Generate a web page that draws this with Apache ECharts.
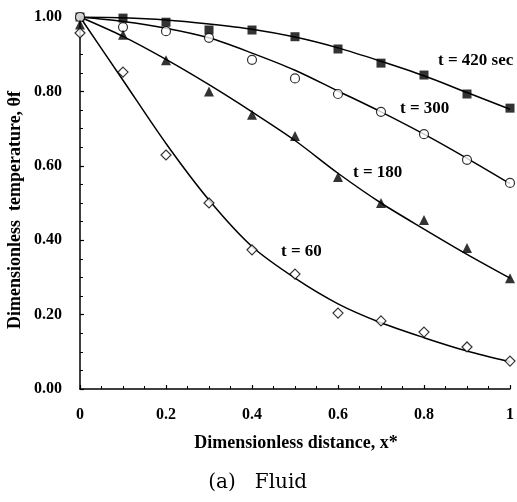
<!DOCTYPE html>
<html><head><meta charset="utf-8">
<script src="https://cdn.jsdelivr.net/npm/echarts@6/dist/echarts.min.js"></script>
<style>html,body{margin:0;padding:0;background:#fff}#c{width:517px;height:502px}</style>
</head><body><div id="c"></div>
<script>
const xs = [0,0.1,0.2,0.3,0.4,0.5,0.6,0.7,0.8,0.9,1.0];
const xTicks = ['0','0.2','0.4','0.6','0.8','1'];
const yTicks = ['0.00','0.20','0.40','0.60','0.80','1.00'];
// measured points
const pts420 = [1.00,0.997,0.986,0.965,0.965,0.947,0.914,0.876,0.844,0.793,0.755];
const pts300 = [1.00,0.973,0.962,0.944,0.885,0.835,0.793,0.745,0.685,0.616,0.554];
const pts180 = [0.98,0.952,0.884,0.800,0.737,0.680,0.570,0.500,0.454,0.379,0.298];
const pts60  = [0.957,0.852,0.629,0.500,0.374,0.309,0.204,0.183,0.153,0.113,0.075];
// fitted curves
const fit420 = [1.00,0.998,0.992,0.981,0.967,0.946,0.917,0.881,0.842,0.797,0.752];
const fit300 = [1.00,0.988,0.970,0.944,0.903,0.857,0.801,0.745,0.685,0.620,0.552];
const fit180 = [1.00,0.948,0.886,0.818,0.745,0.668,0.580,0.500,0.430,0.362,0.298];
const fit60  = [1.00,0.830,0.660,0.508,0.383,0.298,0.229,0.178,0.138,0.102,0.073];

const pair = a => xs.map((x,i)=>[x,a[i]]);
const serif = 'Liberation Serif';
const curve = d => ({type:'line', data: pair(d), smooth:0.3, showSymbol:false, symbol:'none',
  lineStyle:{color:'#000', width:1.5}, z:2, silent:true});
const pts = (d, sym, size, filled) => ({type:'scatter', data: pair(d), symbol: sym, symbolSize: size,
  itemStyle: filled ? {color:'#000'} : {color:'#fff', borderColor:'#000', borderWidth:1.2}, z:3, silent:true});

const chart = echarts.init(document.getElementById('c'));
chart.setOption({
  animation:false,
  grid:{left:80, right:7, top:17, bottom:113, containLabel:false},
  xAxis:{type:'value', min:0, max:1, interval:0.2,
    axisLine:{lineStyle:{color:'#000', width:1.5}},
    axisTick:{inside:true, length:4, lineStyle:{color:'#000', width:1.2}},
    minorTick:{show:true, splitNumber:4, length:3, lineStyle:{color:'#000', width:1}},
    splitLine:{show:false},
    axisLabel:{margin:18, color:'#000', fontFamily:serif, fontWeight:'bold', fontSize:16,
      formatter:(v)=>xTicks[Math.round(v/0.2)]}},
  yAxis:{type:'value', min:0, max:1, interval:0.2,
    axisLine:{show:true, lineStyle:{color:'#000', width:1.5}},
    axisTick:{show:true, inside:true, length:4, lineStyle:{color:'#000', width:1.2}},
    minorTick:{show:true, splitNumber:4, length:3, lineStyle:{color:'#000', width:1}},
    splitLine:{show:false},
    axisLabel:{margin:18, color:'#000', fontFamily:serif, fontWeight:'bold', fontSize:16,
      formatter:(v)=>yTicks[Math.round(v/0.2)]}},
  series:[
    curve(fit420), curve(fit300), curve(fit180), curve(fit60),
    pts(pts420,'rect',9,true), pts(pts300,'circle',9,false),
    pts(pts180,'triangle',10,true), pts(pts60,'diamond',10,false)
  ],
  graphic:[
    {type:'text', x:438, y:61, style:{text:'t = 420 sec', font:'bold 17px "Liberation Serif"', fill:'#000', verticalAlign:'middle'}},
    {type:'text', x:400, y:109, style:{text:'t = 300', font:'bold 17px "Liberation Serif"', fill:'#000', verticalAlign:'middle'}},
    {type:'text', x:353, y:173, style:{text:'t = 180', font:'bold 17px "Liberation Serif"', fill:'#000', verticalAlign:'middle'}},
    {type:'text', x:281, y:252, style:{text:'t = 60', font:'bold 17px "Liberation Serif"', fill:'#000', verticalAlign:'middle'}},
    {type:'text', x:296, y:443, style:{text:'Dimensionless distance, x*', font:'bold 18px "Liberation Serif"', fill:'#000', align:'center', verticalAlign:'middle'}},
    {type:'text', x:15, y:210, rotation:Math.PI/2, style:{text:'Dimensionless  temperature, θf', font:'bold 18px "Liberation Serif"', fill:'#000', align:'center', verticalAlign:'middle'}},
    {type:'text', x:222, y:483, style:{text:'(a)', font:'20px "DejaVu Serif"', fill:'#000', align:'center', verticalAlign:'middle'}},
    {type:'text', x:281, y:483, style:{text:'Fluid', font:'20px "DejaVu Serif"', fill:'#000', align:'center', verticalAlign:'middle'}}
  ]
});
</script></body></html>
